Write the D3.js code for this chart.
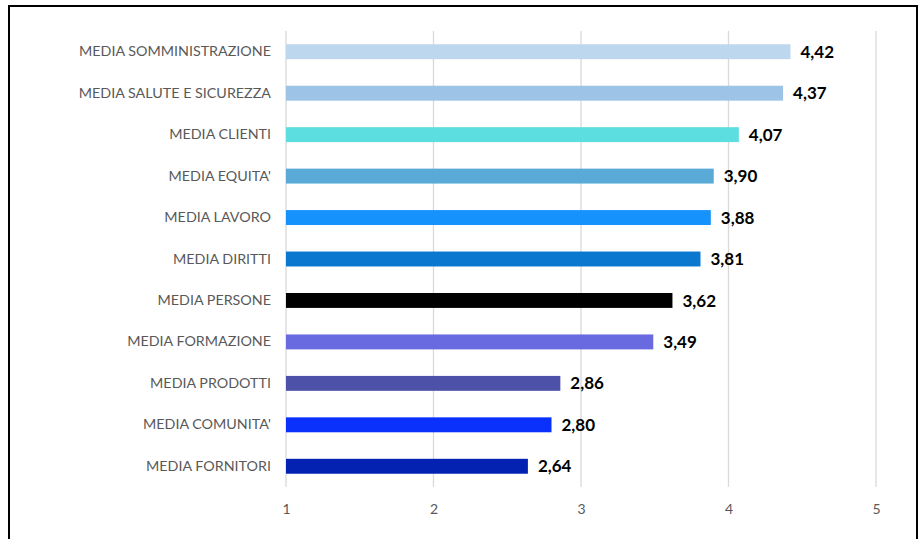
<!DOCTYPE html>
<html>
<head>
<meta charset="utf-8">
<script src="https://cdn.jsdelivr.net/npm/d3@7"></script>
<style>
  body { margin: 0; background: #fff; }
  svg { display: block; }
</style>
</head>
<body>
<script>
"use strict";

var categories = ["MEDIA SOMMINISTRAZIONE", "MEDIA SALUTE E SICUREZZA", "MEDIA CLIENTI", "MEDIA EQUITA'",
  "MEDIA LAVORO", "MEDIA DIRITTI", "MEDIA PERSONE", "MEDIA FORMAZIONE", "MEDIA PRODOTTI",
  "MEDIA COMUNITA'", "MEDIA FORNITORI"];
var values = [4.42, 4.37, 4.07, 3.90, 3.88, 3.81, 3.62, 3.49, 2.86, 2.80, 2.64];
var barColors = ["#bdd7ee", "#9dc3e6", "#5cdde0", "#5aaad8", "#1592fb", "#0a78cf", "#000000",
  "#6969e0", "#4e51a8", "#0a30fb", "#0322b2"];
var xTicks = [1, 2, 3, 4, 5];

var width = 919, height = 539;
var margin = {top: 31, right: 43, bottom: 52, left: 286};

var svg = d3.select("body").append("svg")
  .attr("width", width)
  .attr("height", height);

// outer frame
svg.append("rect")
  .attr("x", 9).attr("y", 6)
  .attr("width", 908).attr("height", 560)
  .attr("fill", "none")
  .attr("stroke", "#000")
  .attr("stroke-width", 2);

var chart = svg.append("g")
  .attr("transform", "translate(" + margin.left + "," + margin.top + ")");

var innerW = width - margin.left - margin.right;
var innerH = height - margin.top - margin.bottom;

var x = d3.scaleLinear().domain([1, 5]).range([0, innerW]);
var y = d3.scaleBand().domain(categories).range([0, innerH]).paddingInner(0.64).paddingOuter(0.32);

// gridlines
chart.selectAll(".grid")
  .data(xTicks)
  .enter().append("line")
  .attr("class", "grid")
  .attr("x1", function(d) { return x(d); })
  .attr("x2", function(d) { return x(d); })
  .attr("y1", 0)
  .attr("y2", innerH)
  .attr("stroke", "#d9d9d9")
  .attr("stroke-width", 1.3);

// x axis labels
var xAxis = d3.axisBottom(x).tickValues(xTicks).tickSize(0).tickPadding(17).tickFormat(d3.format("d"));
var gx = chart.append("g")
  .attr("transform", "translate(0," + innerH + ")")
  .call(xAxis);
gx.select(".domain").remove();
gx.selectAll("text")
  .attr("fill", "#595959")
  .style("font-family", "Lato, 'Open Sans', sans-serif")
  .style("font-size", "14px");

// y axis labels
var yAxis = d3.axisLeft(y).tickSize(0).tickPadding(15);
var gy = chart.append("g").call(yAxis);
gy.select(".domain").remove();
gy.selectAll("text")
  .attr("fill", "#595959")
  .style("font-family", "Lato, 'Open Sans', sans-serif")
  .style("font-size", "14.3px");

// bars
chart.selectAll(".bar")
  .data(values)
  .enter().append("rect")
  .attr("class", "bar")
  .attr("x", x(1))
  .attr("y", function(d, i) { return y(categories[i]); })
  .attr("width", function(d) { return x(d) - x(1); })
  .attr("height", y.bandwidth())
  .attr("fill", function(d, i) { return barColors[i]; });

// value labels
var fmt = function(d) { return d.toFixed(2).replace(".", ","); };
chart.selectAll(".val")
  .data(values)
  .enter().append("text")
  .attr("class", "val")
  .attr("x", function(d) { return x(d) + 10; })
  .attr("y", function(d, i) { return y(categories[i]) + y.bandwidth() / 2; })
  .attr("dy", "0.36em")
  .attr("fill", "#000")
  .style("font-family", "Lato, 'Open Sans', sans-serif")
  .style("font-weight", "bold")
  .style("font-size", "17px")
  .text(fmt);
</script>
</body>
</html>
